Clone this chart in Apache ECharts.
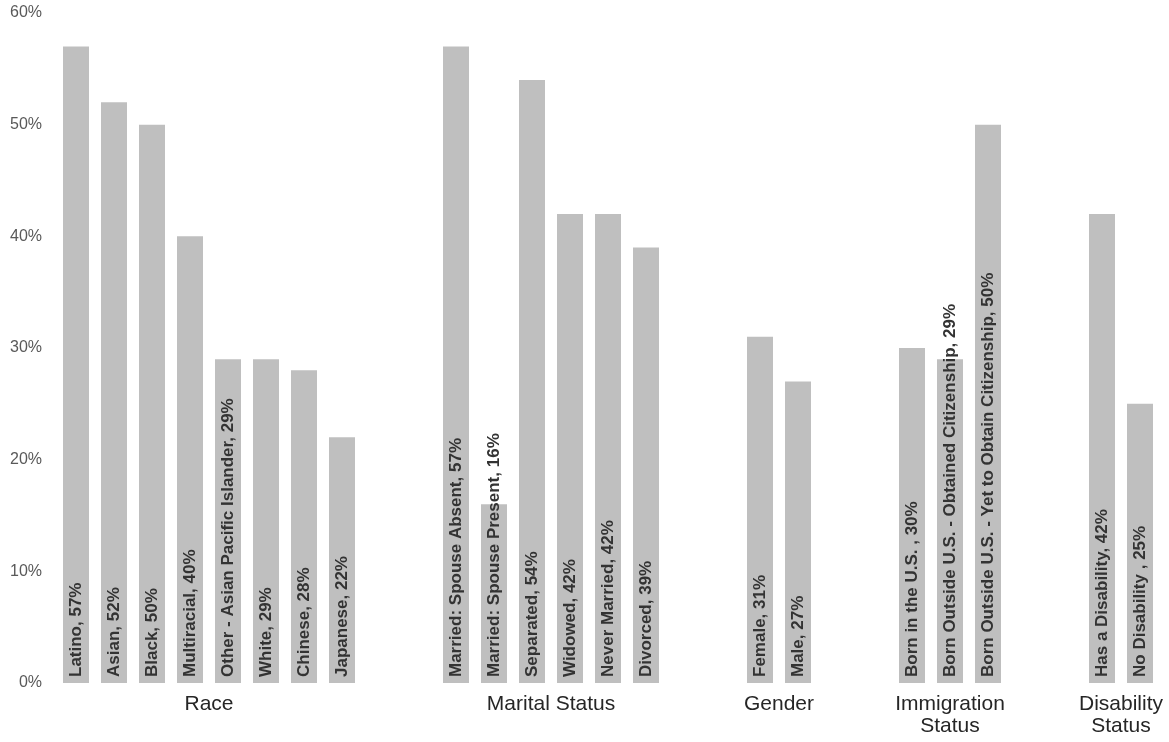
<!DOCTYPE html>
<html>
<head>
<meta charset="utf-8">
<script src="https://cdn.jsdelivr.net/npm/echarts@6/dist/echarts.min.js"></script>
<style>
html,body{margin:0;padding:0;background:#fff;}
#chart{width:1169px;height:742px;}
</style>
</head>
<body>
<div id="chart"></div>
<script>
// ---- data ----
const groupNames = ['Race', 'Marital Status', 'Gender', 'Immigration\nStatus', 'Disability\nStatus'];
const raceCats = ['Latino', 'Asian', 'Black', 'Multiracial', 'Other - Asian Pacific Islander', 'White', 'Chinese', 'Japanese'];
const raceVals = [57, 52, 50, 40, 29, 29, 28, 22];
const maritalCats = ['Married: Spouse Absent', 'Married: Spouse Present', 'Separated', 'Widowed', 'Never Married', 'Divorced'];
const maritalVals = [57, 16, 54, 42, 42, 39];
const genderCats = ['Female', 'Male'];
const genderVals = [31, 27];
const immigrationCats = ['Born in the U.S. ', 'Born Outside U.S. - Obtained Citizenship', 'Born Outside U.S. - Yet to Obtain Citizenship'];
const immigrationVals = [30, 29, 50];
const disabilityCats = ['Has a Disability', 'No Disability '];
const disabilityVals = [42, 25];
const yTicks = [0, 10, 20, 30, 40, 50, 60];

// ---- build slots (two empty slots between groups) ----
const groups = [
  [raceCats, raceVals], [maritalCats, maritalVals], [genderCats, genderVals],
  [immigrationCats, immigrationVals], [disabilityCats, disabilityVals]
];
const gapSlots = 2;
const cats = [], vals = [], centers = {};
let gapId = 0;
groups.forEach(([c, v], gi) => {
  const start = cats.length;
  c.forEach((name, i) => { cats.push(name); vals.push(v[i]); });
  centers[((start + cats.length - 1) / 2).toFixed(1)] = groupNames[gi];
  if (gi < groups.length - 1) {
    for (let k = 0; k < gapSlots; k++) { cats.push('__gap' + (gapId++)); vals.push(null); }
  }
});
const n = cats.length;

const chart = echarts.init(document.getElementById('chart'), null, {renderer: 'canvas'});
chart.setOption({
  animation: false,
  backgroundColor: '#ffffff',
  grid: {left: 57, right: 10, top: 13, bottom: 59, containLabel: false},
  xAxis: [
    {
      type: 'category', data: cats, position: 'bottom',
      axisLine: {show: false}, axisTick: {show: false}, axisLabel: {show: false}, splitLine: {show: false}
    },
    {
      type: 'value', min: -0.5, max: n - 0.5, interval: 0.5, position: 'bottom',
      axisLine: {show: false}, axisTick: {show: false}, splitLine: {show: false},
      axisLabel: {
        show: true, margin: 10, fontSize: 21, lineHeight: 22, color: '#262626',
        fontFamily: 'Liberation Sans, Arial, sans-serif', verticalAlign: 'top',
        showMinLabel: true, showMaxLabel: true,
        formatter: v => centers[Number(v).toFixed(1)] || ''
      }
    }
  ],
  yAxis: {
    type: 'value', min: yTicks[0], max: yTicks[yTicks.length - 1], interval: yTicks[1] - yTicks[0],
    axisLine: {show: false}, axisTick: {show: false}, splitLine: {show: false},
    axisLabel: {formatter: '{value}%', fontSize: 16, color: '#595959', margin: 15,
      fontFamily: 'Liberation Sans, Arial, sans-serif'}
  },
  series: [{
    type: 'bar', xAxisIndex: 0, data: vals, barWidth: 26,
    itemStyle: {color: '#bfbfbf'},
    label: {
      show: true, position: 'insideBottom', rotate: 90, align: 'left', verticalAlign: 'middle',
      distance: 6, fontSize: 17, fontWeight: 'bold', color: '#333333',
      fontFamily: 'Liberation Sans, Arial, sans-serif',
      formatter: p => p.value == null ? '' : p.name + ', ' + p.value + '%'
    }
  }]
});
</script>
</body>
</html>
